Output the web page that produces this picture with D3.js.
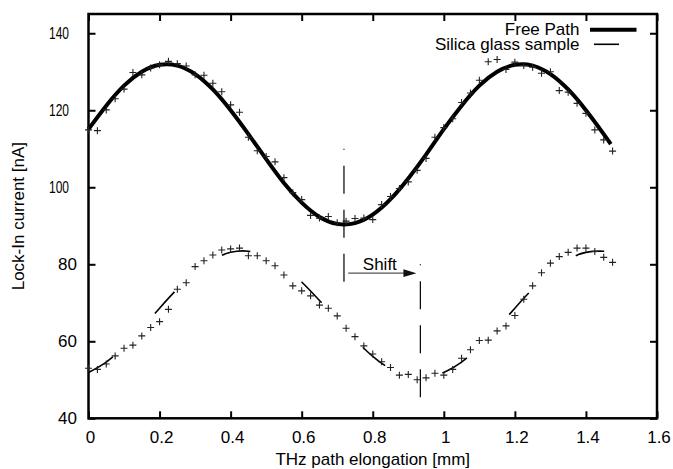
<!DOCTYPE html>
<html>
<head>
<meta charset="utf-8">
<script src="https://cdn.jsdelivr.net/npm/d3@7"></script>
<style>
  html, body { margin: 0; padding: 0; background: #fff; }
  svg { display: block; font-family: "Liberation Sans", Arial, sans-serif; }
</style>
</head>
<body>
<div id="chart"></div>
<script>
const elongation = [
  0, 0.025, 0.05, 0.075, 0.1, 0.125, 0.15, 0.175, 0.2, 0.225,
  0.25, 0.275, 0.3, 0.325, 0.35, 0.375, 0.4, 0.425, 0.45, 0.475,
  0.5, 0.525, 0.55, 0.575, 0.6, 0.625, 0.65, 0.675, 0.7, 0.725,
  0.75, 0.775, 0.8, 0.825, 0.85, 0.875, 0.9, 0.925, 0.95, 0.975,
  1, 1.025, 1.05, 1.075, 1.1, 1.125, 1.15, 1.175, 1.2, 1.225,
  1.25, 1.275, 1.3, 1.325, 1.35, 1.375, 1.4, 1.425, 1.45, 1.475
];
const freePathPoints = [
  114.9, 114.7, 120.1, 123.0, 125.5, 129.8, 129.2, 131.0, 131.8, 132.7,
  132.1, 131.5, 129.2, 129.1, 127.0, 124.8, 121.4, 119.5, 113.0, 109.5,
  108.0, 106.6, 102.5, 98.6, 96.8, 92.7, 92.0, 92.4, 90.8, 91.2,
  91.9, 92.0, 91.6, 95.5, 97.6, 99.7, 101.4, 104.4, 107.5, 113.0,
  115.5, 117.8, 122.0, 124.5, 127.8, 132.6, 133.2, 130.6, 132.5, 131.6,
  131.2, 129.6, 130.0, 125.1, 124.7, 121.8, 119.2, 114.9, 112.3, 109.4
];
const silicaPoints = [
  53.0, 52.7, 54.1, 56.2, 58.2, 59.0, 61.4, 63.6, 65.1, 68.3,
  73.5, 75.2, 79.4, 80.9, 82.4, 83.7, 84.0, 84.2, 82.2, 82.2,
  80.9, 79.6, 77.2, 74.4, 73.1, 71.8, 69.4, 68.6, 66.6, 63.4,
  61.2, 58.8, 56.7, 54.7, 53.2, 51.2, 51.4, 50.0, 50.5, 51.7,
  51.2, 52.7, 55.6, 57.8, 60.2, 60.3, 62.7, 64.0, 66.7, 70.9,
  74.4, 77.8, 80.3, 82.0, 83.1, 84.2, 84.2, 83.3, 81.8, 80.5
];

// Fitted curves, sampled along the drawn lines.
const fitX = [
  0, 0.05, 0.1, 0.15, 0.2, 0.25, 0.3, 0.35, 0.4, 0.45,
  0.5, 0.55, 0.6, 0.65, 0.7, 0.75, 0.8, 0.85, 0.9, 0.95,
  1, 1.05, 1.1, 1.15, 1.2, 1.25, 1.3, 1.35, 1.4, 1.45, 1.47
];
const freePathFit = [
  115.1, 121.2, 126.4, 130.0, 131.8, 131.6, 129.4, 125.4, 120.0, 113.8,
  107.3, 101.1, 96.0, 92.3, 90.5, 90.7, 92.9, 96.9, 102.3, 108.5,
  115.1, 121.2, 126.4, 130.0, 131.8, 131.6, 129.4, 125.4, 120.0, 113.8, 111.2
];
const silicaFit = [
  51.9, 54.6, 58.6, 63.4, 68.6, 73.6, 77.9, 81.2, 83.1, 83.4,
  82.1, 79.4, 75.4, 70.6, 65.5, 60.5, 56.1, 52.8, 50.9, 50.6,
  51.9, 54.6, 58.6, 63.4, 68.6, 73.6, 77.9, 81.2, 83.1, 83.4, 83.1
];

// Annotation: phase markers and the shift arrow (data units).
const markers = [
  { x: 0.719, from: 110, to: 75 },
  { x: 0.934, from: 80, to: 45 }
];
const shiftArrow = { from: 0.731, to: 0.923, y: 77.7, label: 'Shift', labelX: 0.82, labelY: 78.5 };

const xTicks = [0, 0.2, 0.4, 0.6, 0.8, 1, 1.2, 1.4, 1.6];
const yTicks = [40, 60, 80, 100, 120, 140];
const legendItems = ['Free Path', 'Silica glass sample'];

const width = 673, height = 469;
const plot = { left: 88.5, right: 657, top: 14, bottom: 418.3 };

const svg = d3.select('#chart').append('svg')
  .attr('width', width)
  .attr('height', height);

const x = d3.scaleLinear().domain([0, 1.6]).range([plot.left, plot.right]);
const y = d3.scaleLinear().domain([40, 145]).range([plot.bottom, plot.top]);

// Axes: gnuplot style, inward ticks mirrored on all four sides.
const tickLen = 7;
const axisFont = 17;

const bottomAxis = svg.append('g')
  .attr('transform', `translate(0,${plot.bottom})`)
  .call(d3.axisBottom(x).tickValues(xTicks).tickFormat(d => String(d))
    .tickSizeInner(-tickLen).tickSizeOuter(0).tickPadding(12.5));
bottomAxis.selectAll('text').attr('dx', 1.5);

const leftAxis = svg.append('g')
  .attr('transform', `translate(${plot.left},0)`)
  .call(d3.axisLeft(y).tickValues(yTicks).tickFormat(d => String(d))
    .tickSizeInner(-tickLen).tickSizeOuter(0).tickPadding(11.5));
// three-digit labels sit further left and narrower in the reference
leftAxis.selectAll('text')
  .filter(d => String(d).length > 2)
  .attr('x', -19.5)
  .attr('textLength', 20)
  .attr('lengthAdjust', 'spacingAndGlyphs');

svg.append('g')
  .attr('transform', `translate(0,${plot.top})`)
  .call(d3.axisTop(x).tickValues(xTicks).tickFormat('')
    .tickSizeInner(-tickLen).tickSizeOuter(0));

svg.append('g')
  .attr('transform', `translate(${plot.right},0)`)
  .call(d3.axisRight(y).tickValues(yTicks).tickFormat('')
    .tickSizeInner(-tickLen).tickSizeOuter(0));

svg.selectAll('.domain').remove();
svg.selectAll('.tick line').attr('stroke', '#000').attr('stroke-width', 2);
svg.selectAll('.tick text')
  .attr('fill', '#000')
  .attr('font-size', axisFont)
  .attr('font-family', '"Liberation Sans", Arial, sans-serif');

svg.append('rect')
  .attr('x', plot.left)
  .attr('y', plot.top)
  .attr('width', plot.right - plot.left)
  .attr('height', plot.bottom - plot.top)
  .attr('fill', 'none')
  .attr('stroke', '#000')
  .attr('stroke-width', 2.5);

// Axis titles
svg.append('text')
  .attr('x', (plot.left + plot.right) / 2)
  .attr('y', 465)
  .attr('text-anchor', 'middle')
  .attr('font-size', axisFont)
  .text('THz path elongation [mm]');

svg.append('text')
  .attr('transform', `translate(24,${(plot.top + plot.bottom) / 2}) rotate(-90)`)
  .attr('text-anchor', 'middle')
  .attr('font-size', axisFont)
  .text('Lock-In current [nA]');

// Fitted curves
const line = d3.line()
  .x((d, i) => x(fitX[i]))
  .y(d => y(d))
  .curve(d3.curveNatural);

svg.append('path')
  .datum(freePathFit)
  .attr('d', line)
  .attr('fill', 'none')
  .attr('stroke', '#000')
  .attr('stroke-width', 4);

svg.append('path')
  .datum(silicaFit)
  .attr('d', line)
  .attr('fill', 'none')
  .attr('stroke', '#000')
  .attr('stroke-width', 1.6)
  .attr('stroke-dasharray', '29,60.5');

// Measured points drawn as plus markers
const cross = 'M-3.5,0H3.5M0,-3.5V3.5';
for (const series of [freePathPoints, silicaPoints]) {
  svg.append('g')
    .selectAll('path')
    .data(series)
    .join('path')
    .attr('transform', (d, i) => `translate(${x(elongation[i])},${y(d)})`)
    .attr('d', cross)
    .attr('stroke', '#222')
    .attr('stroke-width', 1.1)
    .attr('fill', 'none');
}

// Phase markers
svg.append('g')
  .selectAll('line')
  .data(markers)
  .join('line')
  .attr('x1', d => x(d.x))
  .attr('x2', d => x(d.x))
  .attr('y1', d => y(d.from))
  .attr('y2', d => y(d.to))
  .attr('stroke', '#000')
  .attr('stroke-width', 1.2)
  .attr('stroke-dasharray', '28,16')
  .attr('stroke-dashoffset', 27);

// Shift arrow
const ax1 = x(shiftArrow.from), ax2 = x(shiftArrow.to), ay = y(shiftArrow.y);
const headLen = 13, headHalf = 3.8;
svg.append('line')
  .attr('x1', ax1)
  .attr('x2', ax2 - headLen + 1)
  .attr('y1', ay)
  .attr('y2', ay)
  .attr('stroke', '#555')
  .attr('stroke-width', 1.3);
svg.append('path')
  .attr('d', `M${ax2},${ay}L${ax2 - headLen},${ay - headHalf}L${ax2 - headLen},${ay + headHalf}Z`)
  .attr('fill', '#111');
svg.append('text')
  .attr('x', x(shiftArrow.labelX))
  .attr('y', y(shiftArrow.labelY))
  .attr('text-anchor', 'middle')
  .attr('font-size', axisFont)
  .text(shiftArrow.label);

// Legend
const legend = svg.append('g');
legend.selectAll('text')
  .data(legendItems)
  .join('text')
  .attr('x', 579.5)
  .attr('y', (d, i) => 35 + i * 14.5)
  .attr('text-anchor', 'end')
  .attr('font-size', axisFont)
  .text(d => d);
legend.append('line')
  .attr('x1', 590).attr('x2', 636.5)
  .attr('y1', 29.8).attr('y2', 29.8)
  .attr('stroke', '#000').attr('stroke-width', 4);
legend.append('line')
  .attr('x1', 594).attr('x2', 619)
  .attr('y1', 44.3).attr('y2', 44.3)
  .attr('stroke', '#000').attr('stroke-width', 1.6);
</script>
</body>
</html>
